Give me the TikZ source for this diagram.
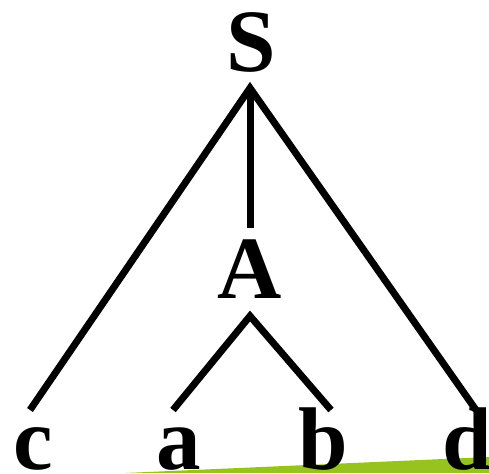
\documentclass[tikz,border=0pt]{standalone}
\usepackage{fontspec}
\setmainfont{Liberation Serif}
\begin{document}
\begin{tikzpicture}[x=1pt,y=-1pt,
  sym/.style={anchor=base,inner sep=0pt,font=\fontsize{89}{89}\selectfont\bfseries},
  edge/.style={line width=7pt,black}]
\useasboundingbox (0,0) rectangle (489,473);
\fill[fill={rgb,255:red,150;green,195;blue,30}] (125,473) -- (489,457) -- (489,473) -- cycle;
\node[sym] (S) at (251,72) {S};
\node[sym] (A) at (250,298) {A};
\node[sym] (c) at (33,469) {c};
\node[sym] (a) at (179,469) {a};
\node[sym] (b) at (323,469) {b};
\node[sym] (d) at (467,469) {d};
\coordinate (sj) at (250,88);
\coordinate (aj) at (250,316);
\coordinate (ctop) at (30,410);
\coordinate (atop) at (173,410);
\coordinate (btop) at (331,410);
\coordinate (dtop) at (476,410);
\coordinate (Atop) at (250,228);
\draw[edge] (ctop) -- (sj) -- (dtop);
\draw[edge] (sj) -- (Atop);
\draw[edge] (atop) -- (aj) -- (btop);
\end{tikzpicture}
\end{document}
